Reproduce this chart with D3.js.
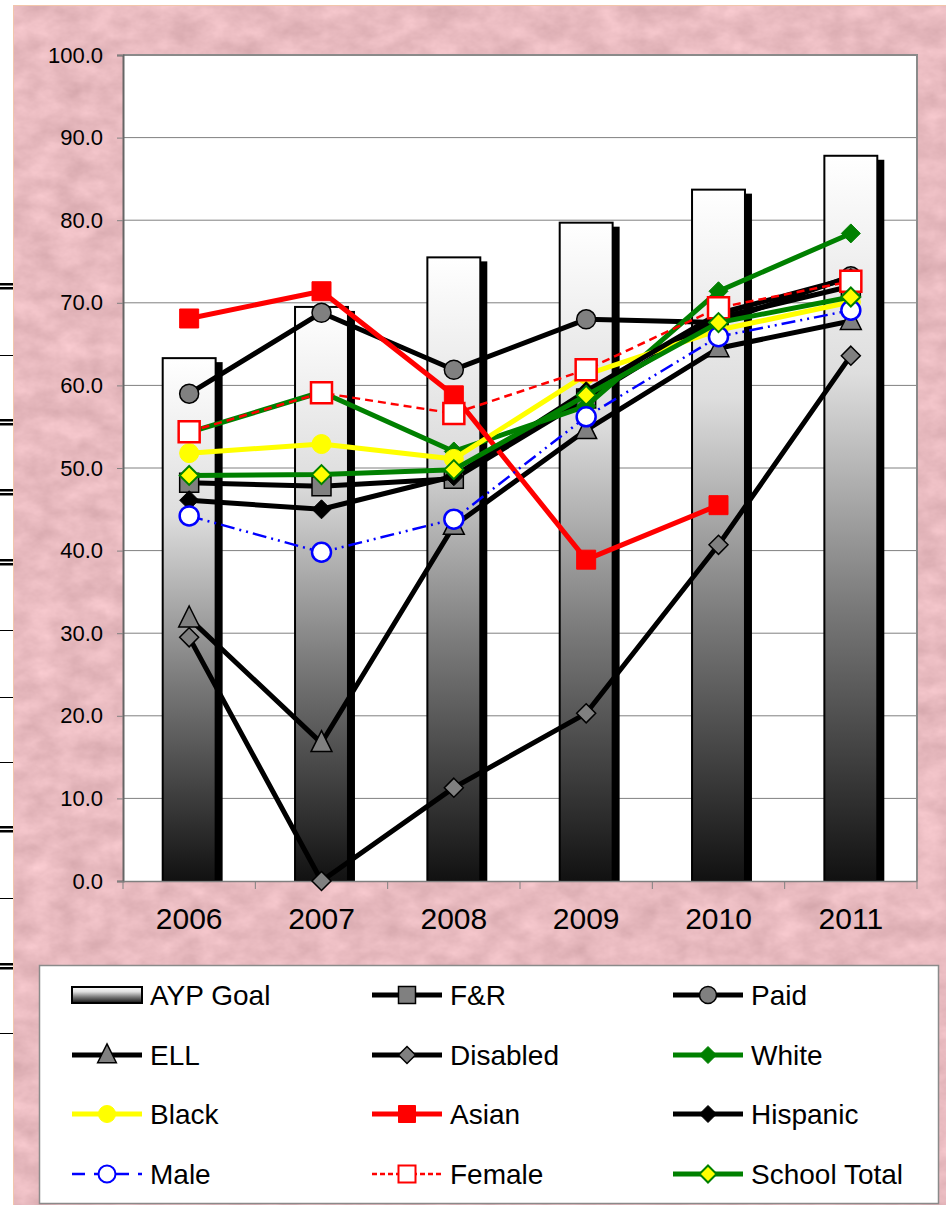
<!DOCTYPE html>
<html>
<head>
<meta charset="utf-8">
<script src="https://cdn.jsdelivr.net/npm/d3@7"></script>
<style>
  body { margin: 0; background: #fff; }
  svg { display: block; }
  text { font-family: "Liberation Sans", Arial, sans-serif; fill: #000; }
</style>
</head>
<body>
<svg width="946" height="1205"></svg>
<script>
const years = ["2006", "2007", "2008", "2009", "2010", "2011"];
const yTicks = [0, 10, 20, 30, 40, 50, 60, 70, 80, 90, 100];

const aypGoal = [63.3, 69.5, 75.5, 79.7, 83.7, 87.8];
const frValues = [48.2, 47.8, 48.7, 58.4, 68.2, 72.0];
const paidValues = [59.0, 68.8, 61.9, 68.0, 67.6, 73.2];
const ellValues = [31.8, 16.7, 43.0, 54.6, 64.5, 67.8];
const disabledValues = [29.5, 0.0, 11.3, 20.3, 40.7, 63.6];
const whiteValues = [54.3, 59.2, 52.0, 57.5, 71.4, 78.4];
const blackValues = [51.8, 52.9, 51.1, 61.3, 66.7, 70.1];
const asianValues = [68.1, 71.4, 58.8, 38.9, 45.5, null];
const hispanicValues = [46.1, 45.0, 49.0, 59.3, 68.7, 73.0];
const maleValues = [44.2, 39.8, 43.8, 56.2, 65.9, 69.1];
const femaleValues = [54.4, 59.1, 56.6, 61.9, 69.4, 72.6];
const schoolTotalValues = [49.1, 49.2, 49.8, 58.8, 67.6, 70.7];

const series = [
  { name: "F&R", values: frValues, color: "#000", width: 5, dash: null, marker: "square", fill: "#808080", stroke: "#000", sw: 1.5 },
  { name: "Paid", values: paidValues, color: "#000", width: 5, dash: null, marker: "circle", fill: "#808080", stroke: "#000", sw: 1.5 },
  { name: "ELL", values: ellValues, color: "#000", width: 5, dash: null, marker: "triangle", fill: "#808080", stroke: "#000", sw: 1.5 },
  { name: "Disabled", values: disabledValues, color: "#000", width: 5, dash: null, marker: "diamond", fill: "#808080", stroke: "#000", sw: 1.5 },
  { name: "White", values: whiteValues, color: "#008000", width: 5, dash: null, marker: "diamond", fill: "#008000", stroke: "#008000", sw: 1 },
  { name: "Black", values: blackValues, color: "#ffff00", width: 5, dash: null, marker: "circle", fill: "#ffff00", stroke: "#ffff00", sw: 1 },
  { name: "Asian", values: asianValues, color: "#ff0000", width: 5, dash: null, marker: "square", fill: "#ff0000", stroke: "#ff0000", sw: 1 },
  { name: "Hispanic", values: hispanicValues, color: "#000", width: 5, dash: null, marker: "diamond", fill: "#000", stroke: "#000", sw: 1 },
  { name: "Male", values: maleValues, color: "#0000ff", width: 2.5, dash: "14,5,2,5,2,5", marker: "circle", fill: "#fff", stroke: "#0000ff", sw: 2.5 },
  { name: "Female", values: femaleValues, color: "#ff0000", width: 2.5, dash: "8,5", marker: "square", fill: "#fff", stroke: "#ff0000", sw: 2.5 },
  { name: "School Total", values: schoolTotalValues, color: "#008000", width: 5, dash: null, marker: "diamond", fill: "#ffff00", stroke: "#008000", sw: 2 }
];

const svg = d3.select("svg");
const plot = { left: 123, top: 55, right: 917, bottom: 881 };

const defs = svg.append("defs");

// mottled pink paper
const paper = defs.append("filter").attr("id", "paper")
  .attr("x", 0).attr("y", 0).attr("width", 1).attr("height", 1)
  .attr("color-interpolation-filters", "sRGB");
paper.append("feTurbulence").attr("type", "fractalNoise")
  .attr("baseFrequency", "0.035 0.05").attr("numOctaves", 4).attr("seed", 11);
paper.append("feColorMatrix").attr("type", "matrix")
  .attr("values", "0.16 0 0 0 0.83  0.16 0 0 0 0.65  0.16 0 0 0 0.67  0 0 0 0 1");

const grad = defs.append("linearGradient").attr("id", "barGrad")
  .attr("x1", 0).attr("y1", 0).attr("x2", 0).attr("y2", 1);
[[0, "#ffffff"], [0.3, "#dedede"], [0.62, "#7a7a7a"], [1, "#111111"]].forEach(([o, c]) =>
  grad.append("stop").attr("offset", o).attr("stop-color", c));

// left strip left over from the page behind
[[286, 2], [355, 1], [422, 2], [492, 2], [562, 2], [630, 1], [697, 1], [762, 1], [829, 2], [898, 1], [966, 2], [1033, 1]]
  .forEach(([yy, k]) => {
    if (k === 2) {
      svg.append("rect").attr("x", 0).attr("y", yy - 3).attr("width", 13).attr("height", 2.5).attr("fill", "#000");
      svg.append("rect").attr("x", 0).attr("y", yy + 1).attr("width", 13).attr("height", 2.5).attr("fill", "#000");
    } else {
      svg.append("rect").attr("x", 0).attr("y", yy).attr("width", 13).attr("height", 1).attr("fill", "#000");
    }
  });

svg.append("rect").attr("x", 13).attr("y", 5).attr("width", 933).attr("height", 1200)
  .attr("filter", "url(#paper)");
svg.append("path").attr("d", "M13.5,1205V5.5H946").attr("fill", "none").attr("stroke", "#f2c6ab");

const x = d3.scaleBand().domain(years).range([plot.left, plot.right]).padding(0);
const y = d3.scaleLinear().domain([0, 100]).range([plot.bottom, plot.top]);

svg.append("rect")
  .attr("x", plot.left).attr("y", plot.top)
  .attr("width", plot.right - plot.left).attr("height", plot.bottom - plot.top)
  .attr("fill", "#fff");

// gridlines
svg.append("g").selectAll("line").data(yTicks.slice(1)).join("line")
  .attr("x1", plot.left).attr("x2", plot.right)
  .attr("y1", d => y(d)).attr("y2", d => y(d))
  .attr("stroke", "#808080").attr("stroke-width", 1);

// AYP goal bars
const barW = x.bandwidth() * 0.4;
const bars = svg.append("g");
bars.selectAll("rect.shadow").data(aypGoal).join("rect").attr("class", "shadow")
  .attr("x", (d, i) => x(years[i]) + (x.bandwidth() - barW) / 2 + 7)
  .attr("y", d => y(d) + 4)
  .attr("width", barW)
  .attr("height", d => y(0) - y(d) - 4)
  .attr("fill", "#000");
bars.selectAll("rect.bar").data(aypGoal).join("rect").attr("class", "bar")
  .attr("x", (d, i) => x(years[i]) + (x.bandwidth() - barW) / 2)
  .attr("y", d => y(d))
  .attr("width", barW)
  .attr("height", d => y(0) - y(d))
  .attr("fill", "url(#barGrad)")
  .attr("stroke", "#000").attr("stroke-width", 2);

// plot border
svg.append("path")
  .attr("d", `M${plot.left},${plot.top}H${plot.right}V${plot.bottom}`)
  .attr("fill", "none").attr("stroke", "#8a8a8a").attr("stroke-width", 2);

// axes
const yAxis = svg.append("g").attr("transform", `translate(${plot.left},0)`)
  .call(d3.axisLeft(y).tickValues(yTicks).tickFormat(d3.format(".1f")).tickSize(6).tickPadding(14));
yAxis.select(".domain").attr("stroke", "#666").attr("stroke-width", 2);
yAxis.selectAll(".tick line").attr("stroke", "#808080");
yAxis.selectAll("text").style("font-size", "22px");

const xAxis = svg.append("g").attr("transform", `translate(0,${plot.bottom})`)
  .call(d3.axisBottom(x).tickSize(0).tickPadding(27));
xAxis.select(".domain").attr("stroke", "#808080").attr("stroke-width", 1.5);
xAxis.selectAll("text").style("font-size", "30px");
xAxis.selectAll("line.bound").data(d3.range(years.length + 1)).join("line").attr("class", "bound")
  .attr("x1", i => x.range()[0] + i * x.step()).attr("x2", i => x.range()[0] + i * x.step())
  .attr("y1", 0).attr("y2", 8).attr("stroke", "#808080");

// markers
function markerPath(type, k) {
  if (type === "square") { const s = 10 * k; return `M${-s},${-s}h${2 * s}v${2 * s}h${-2 * s}Z`; }
  if (type === "circle") { const r = 10 * k; return `M${-r},0a${r},${r} 0 1,0 ${2 * r},0a${r},${r} 0 1,0 ${-2 * r},0Z`; }
  if (type === "diamond") { const h = 10 * k; return `M0,${-h}L${h},0L0,${h}L${-h},0Z`; }
  return `M0,${-13 * k}L${11 * k},${9 * k}L${-11 * k},${9 * k}Z`;
}

const line = d3.line()
  .defined(d => d.v != null)
  .x(d => x(d.year) + x.bandwidth() / 2)
  .y(d => y(d.v));

const lines = svg.append("g");
series.forEach(s => {
  const pts = s.values.map((v, i) => ({ year: years[i], v }));
  const g = lines.append("g");
  g.append("path").datum(pts).attr("d", line)
    .attr("fill", "none").attr("stroke", s.color).attr("stroke-width", s.width)
    .attr("stroke-dasharray", s.dash).attr("stroke-linejoin", "round");
  g.selectAll("path.m").data(pts.filter(p => p.v != null)).join("path").attr("class", "m")
    .attr("transform", p => `translate(${x(p.year) + x.bandwidth() / 2},${y(p.v)})`)
    .attr("d", markerPath(s.marker, s.marker === "square" && s.fill === "#fff" ? 1.05 : 0.95))
    .attr("fill", s.fill).attr("stroke", s.stroke).attr("stroke-width", s.sw);
});

// legend
const legend = svg.append("g");
legend.append("rect").attr("x", 39.5).attr("y", 965.5).attr("width", 899).attr("height", 238)
  .attr("fill", "#fff").attr("stroke", "#8a8a8a").attr("stroke-width", 1.5);

const legendItems = [{ name: "AYP Goal", bar: true }].concat(series);
const colX = [72, 372, 673];
const rowY = [995, 1055, 1114, 1174];
legendItems.forEach((s, i) => {
  const cx = colX[i % 3], cy = rowY[Math.floor(i / 3)];
  const g = legend.append("g").attr("transform", `translate(${cx},${cy})`);
  if (s.bar) {
    g.append("rect").attr("x", 0).attr("y", -8).attr("width", 70).attr("height", 16)
      .attr("fill", "url(#barGrad)").attr("stroke", "#000").attr("stroke-width", 2);
  } else {
    g.append("line").attr("x1", 0).attr("x2", 70).attr("y1", 0).attr("y2", 0)
      .attr("stroke", s.color).attr("stroke-width", s.width)
      .attr("stroke-dasharray", s.dash ? (s.name === "Male" ? "13,9,13,9" : "5,3") : null);
    g.append("path").attr("transform", "translate(35,0)")
      .attr("d", markerPath(s.marker, 0.85))
      .attr("fill", s.fill).attr("stroke", s.stroke).attr("stroke-width", Math.min(s.sw, 2));
  }
  g.append("text").attr("x", 78).attr("y", 10).style("font-size", "28px").text(s.name);
});
</script>
</body>
</html>
